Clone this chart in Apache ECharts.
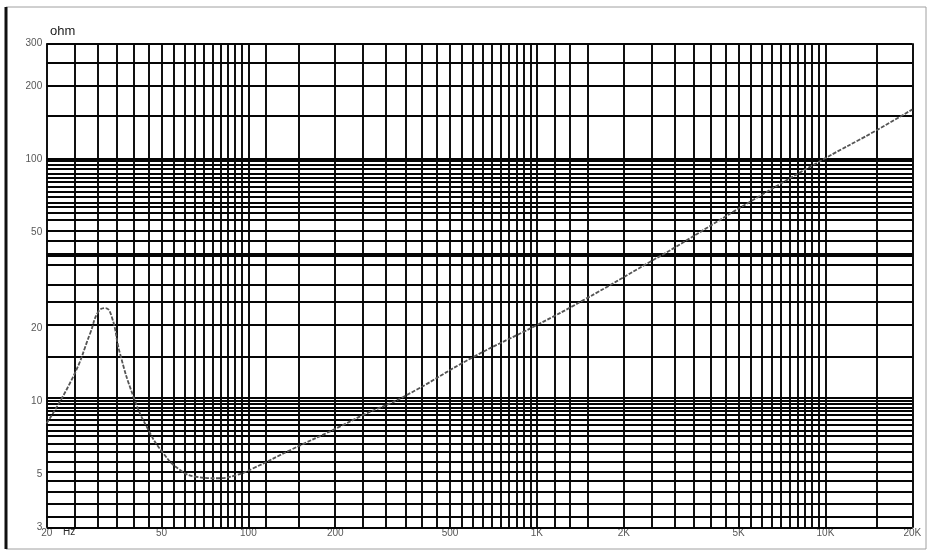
<!DOCTYPE html>
<html>
<head>
<meta charset="utf-8">
<script src="https://cdn.jsdelivr.net/npm/echarts@6/dist/echarts.min.js"></script>
<style>
html,body{margin:0;padding:0;background:#fff;}
#chart{width:934px;height:551px;}
</style>
</head>
<body>
<div id="chart"></div>
<script>
// Impedance curve (frequency in Hz, impedance in ohm)
const freq = [20, 24.7, 28.3, 30.2, 31.9, 33.6, 35.9, 40, 44.4, 50.7, 58, 66, 77.6, 91, 104, 140, 202, 250, 344, 602, 1000, 1450, 2470, 2970, 5480, 9970, 14660, 20000];
const ohm  = [8.1, 12.6, 19.05, 23.4, 24.2, 22.3, 15.7, 10.4, 7.84, 6.09, 5.19, 4.87, 4.80, 4.95, 5.28, 6.28, 7.72, 8.76, 10.4, 15.2, 20.6, 26.1, 37.6, 42.7, 66.5, 100.5, 129, 160];

// Graph-paper grid lines
const xGrid = [20,25,30,35,40,45,50,55,60,65,70,75,80,85,90,95,100,115,150,200,250,300,350,400,450,500,550,600,650,700,750,800,850,900,950,1000,1150,1300,1500,2000,2500,3000,3500,4000,4500,5000,5500,6000,6500,7000,7500,8000,8500,9000,9500,10000,15000,20000];
const yGrid = [300,250,200,150,100,98.2,94.4,90.6,87.2,83.6,80.5,76.6,73,69.6,66,63.2,59.8,56.1,50.6,45.8,40.6,39.7,36.4,30.1,25.7,20.6,15.2,10.3,10.06,9.77,9.4,9.09,8.76,8.35,7.97,7.55,7.22,6.68,6.15,5.64,5.13,4.67,4.24,3.78,3.33,3];

// Tick labels
const xTickValues = [20, 50, 100, 200, 500, 1000, 2000, 5000, 10000, 20000];
const xTickLabels = ['20', '50', '100', '200', '500', '1K', '2K', '5K', '10K', '20K'];
const yTickValues = [3, 5, 10, 20, 50, 100, 200, 300];
const yTickLabels = ['3', '5', '10', '20', '50', '100', '200', '300'];

const X_MIN = 20, X_MAX = 20000, Y_MIN = 3, Y_MAX = 300;

const chart = echarts.init(document.getElementById('chart'), null, {renderer: 'canvas'});

const gridLineStyle = {color: '#050505', width: 1.9, type: 'solid', opacity: 1};
const markData = xGrid.map(v => ({xAxis: v})).concat(yGrid.map(v => ({yAxis: v})));

const labelFont = {fontFamily: 'Liberation Sans, Arial, sans-serif', fontSize: 10, color: '#2a2a2a'};

const option = {
  animation: false,
  backgroundColor: '#fff',
  grid: {left: 46.7, right: 21.7, top: 43.3, bottom: 23.3, containLabel: false, outerBoundsMode: 'none'},
  xAxis: {
    type: 'log', logBase: 10, min: X_MIN, max: X_MAX,
    axisLine: {show: false}, axisTick: {show: false}, axisLabel: {show: false}, splitLine: {show: false}
  },
  yAxis: {
    type: 'log', logBase: 10, min: Y_MIN, max: Y_MAX,
    axisLine: {show: false}, axisTick: {show: false}, axisLabel: {show: false}, splitLine: {show: false}
  },
  graphic: [
    {type: 'rect', shape: {x: 6, y: 7, width: 920, height: 542}, style: {fill: 'none', stroke: '#a0a0a0', lineWidth: 1}, silent: true, z: 0},
    {type: 'rect', shape: {x: 4.5, y: 7, width: 3, height: 542}, style: {fill: '#111'}, silent: true, z: 0},
    {type: 'text', left: 50, top: 25, style: {text: 'ohm', fontFamily: 'Liberation Sans, Arial, sans-serif', fontSize: 13, fill: '#1a1a1a'}, silent: true},
    {type: 'text', left: 63, top: 527, style: {text: 'Hz', fontFamily: 'Liberation Sans, Arial, sans-serif', fontSize: 10, fill: '#2a2a2a'}, silent: true}
  ],
  series: [
    {
      name: 'grid',
      type: 'line',
      data: [[X_MIN, Y_MIN]],
      showSymbol: false,
      lineStyle: {opacity: 0},
      silent: true,
      z: 1,
      markLine: {
        silent: true,
        symbol: ['none', 'none'],
        label: {show: false},
        lineStyle: gridLineStyle,
        emphasis: {disabled: true},
        data: markData
      }
    },
    {
      name: 'xLabels',
      type: 'scatter',
      clip: false,
      symbolSize: 1,
      itemStyle: {color: 'rgba(0,0,0,0)'},
      silent: true,
      data: xTickValues.map((v, i) => ({value: [v, Y_MIN], name: xTickLabels[i]})),
      label: Object.assign({show: true, position: 'bottom', distance: 0, formatter: p => p.name}, labelFont),
      z: 2
    },
    {
      name: 'yLabels',
      type: 'scatter',
      clip: false,
      symbolSize: 1,
      itemStyle: {color: 'rgba(0,0,0,0)'},
      silent: true,
      data: yTickValues.map((v, i) => ({value: [X_MIN, v], name: yTickLabels[i]})),
      label: Object.assign({show: true, position: 'left', distance: 4, formatter: p => p.name}, labelFont),
      z: 2
    },
    {
      name: 'Impedance',
      type: 'line',
      data: freq.map((f, i) => [f, ohm[i]]),
      smooth: 0.5,
      showSymbol: false,
      lineStyle: {color: '#555', width: 1.8, type: [4, 1.5]},
      z: 5
    }
  ]
};

chart.setOption(option);
</script>
</body>
</html>
